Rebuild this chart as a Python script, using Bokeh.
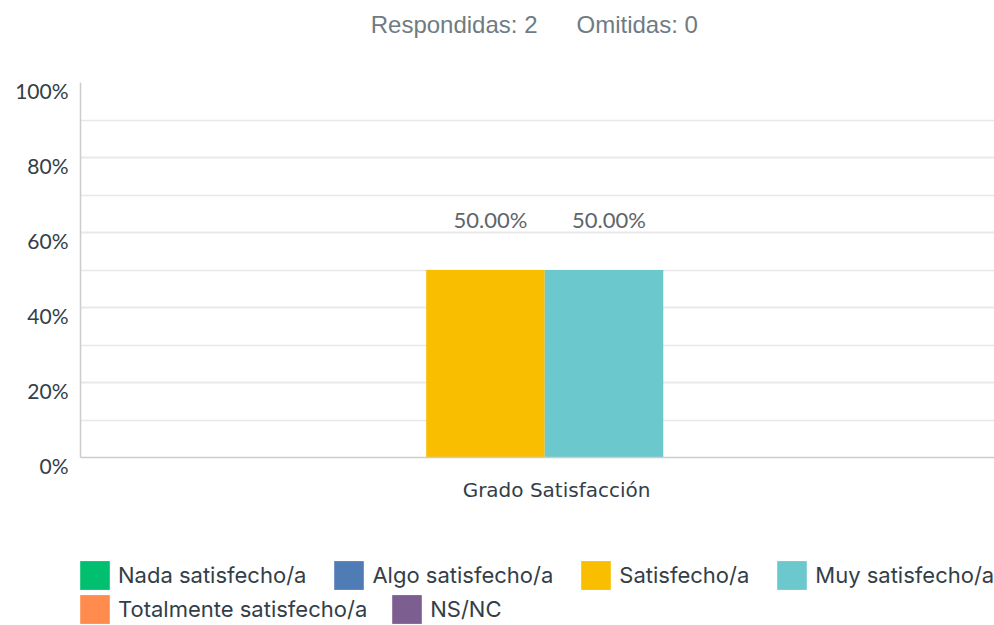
from bokeh.plotting import figure
from bokeh.layouts import column
from bokeh.models import (ColumnDataSource, Range1d, Legend, LegendItem,
                          SingleIntervalTicker, FixedTicker)
from bokeh.embed import file_html
from bokeh.resources import INLINE
from bokeh.core.properties import value

# ---- data ----
answered = 2
skipped = 0
categories = ["Grado Satisfacción"]
series = ["Nada satisfecho/a", "Algo satisfecho/a", "Satisfecho/a",
          "Muy satisfecho/a", "Totalmente satisfecho/a", "NS/NC"]
percentages = [0.0, 0.0, 50.0, 50.0, 0.0, 0.0]
colors = ["#00bf6f", "#507cb6", "#f9be00", "#6bc8cd", "#ff8b4f", "#7d5e90"]
y_ticks = [0, 20, 40, 60, 80, 100]

# ---- layout constants ----
BAR_W = 0.1245
SHIFT = -0.0124
TEXT_DARK = "#333e48"
HEAD_GREY = "#6f7b82"
LEFT = 80     # frame left edge, shared by all stacked figures
WIDTH = 994

def bare(fig):
    fig.grid.visible = False
    fig.outline_line_color = None
    return fig

# ---- header: answered / skipped (x range in page pixels) ----
hp = bare(figure(width=WIDTH, height=45, output_backend="svg", toolbar_location=None,
                 x_range=Range1d(LEFT, WIDTH), y_range=Range1d(0, 45),
                 x_axis_location=None, y_axis_location=None,
                 min_border_left=LEFT, min_border_right=0, min_border_top=0,
                 min_border_bottom=0))
hp.text(x=[537], y=[21], text=[f"Respondidas: {answered}"], text_align="right",
        text_baseline="middle", text_font=value("Liberation Sans"),
        text_font_size="24px", text_color=HEAD_GREY)
hp.text(x=[576], y=[21], text=[f"Omitidas: {skipped}"], text_align="left",
        text_baseline="middle", text_font=value("Liberation Sans"),
        text_font_size="24px", text_color=HEAD_GREY)

# ---- main chart ----
p = figure(width=WIDTH, height=475, output_backend="svg", toolbar_location=None,
           x_range=Range1d(-0.5, 0.46), y_range=Range1d(0, 100),
           min_border_left=LEFT, min_border_right=0, min_border_top=37,
           min_border_bottom=63)
p.outline_line_color = None

for ci, cat in enumerate(categories):
    for i, (name, v, c) in enumerate(zip(series, percentages, colors)):
        x = ci + (i - (len(series) - 1) / 2) * BAR_W + SHIFT
        src = ColumnDataSource(dict(x=[x], top=[v]))
        p.vbar(x="x", top="top", width=BAR_W, bottom=0, source=src,
               fill_color=c, line_color=None)
        if v > 0:
            p.text(x=[x], y=[v], text=[f"{v:.2f}%"], x_offset=5, y_offset=-51,
                   text_align="center", text_baseline="middle",
                   text_font=value("Lato"), text_font_size="22px",
                   text_color="#5f656b")

p.yaxis.ticker = SingleIntervalTicker(interval=20, num_minor_ticks=2)
p.yaxis.major_label_overrides = {t: f"\n{t}%" for t in y_ticks}
p.yaxis.major_label_text_line_height = 0.6
p.yaxis.major_tick_line_color = None
p.yaxis.minor_tick_line_color = None
p.yaxis.major_tick_out = 0
p.yaxis.axis_line_color = "#cccccc"
p.yaxis.axis_line_width = 1.5
p.yaxis.major_label_text_font = "Lato"
p.yaxis.major_label_text_font_size = "21px"
p.yaxis.major_label_text_color = TEXT_DARK
p.yaxis.major_label_standoff = 8

p.xaxis.ticker = FixedTicker(ticks=list(range(len(categories))))
p.xaxis.major_label_overrides = {i: c for i, c in enumerate(categories)}
p.xaxis.major_tick_line_color = None
p.xaxis.minor_tick_line_color = None
p.xaxis.major_tick_out = 0
p.xaxis.axis_line_color = "#cccccc"
p.xaxis.axis_line_width = 1.5
p.xaxis.major_label_text_font = "DejaVu Sans"
p.xaxis.major_label_text_font_size = "20px"
p.xaxis.major_label_text_color = TEXT_DARK
p.xaxis.major_label_standoff = 20

p.xgrid.grid_line_color = None
p.ygrid.grid_line_color = "#e8e8e8"
p.ygrid.minor_grid_line_color = "#e8e8e8"
p.ygrid.grid_line_width = 1.5
p.ygrid.minor_grid_line_width = 1.5

# ---- legend (two flowing rows) ----
lp = bare(figure(width=WIDTH, height=105, output_backend="svg", toolbar_location=None,
                 x_range=Range1d(0, 1), y_range=Range1d(0, 1),
                 x_axis_location=None, y_axis_location=None,
                 min_border_left=LEFT, min_border_right=0, min_border_top=0,
                 min_border_bottom=0))

legend_renderers = []
for name, c in zip(series, colors):
    # zero-height stand-ins that carry each series' colour into the legend
    legend_renderers.append(lp.vbar(x=[0.5], top=[0], bottom=0, width=0.1,
                                    fill_color=c, line_color=None))
items = [LegendItem(label=s, renderers=[r]) for s, r in zip(series, legend_renderers)]

def make_legend(its, loc, spacing):
    lg = Legend(items=its, location=loc, orientation="horizontal")
    lg.padding = 0
    lg.margin = 0
    lg.spacing = spacing
    lg.glyph_width = 37
    lg.glyph_height = 36
    lg.label_height = 36
    lg.label_standoff = 5
    lg.border_line_color = None
    lg.background_fill_alpha = 0
    lg.label_text_font = "Inter"
    lg.label_text_font_size = "22px"
    lg.label_text_color = TEXT_DARK
    return lg

lp.add_layout(make_legend(items[:4], (-4, 32), 24))
lp.add_layout(make_legend(items[4:], (-4, -2), 21))

open("out.html", "w").write(file_html(column(hp, p, lp, spacing=0), INLINE))
